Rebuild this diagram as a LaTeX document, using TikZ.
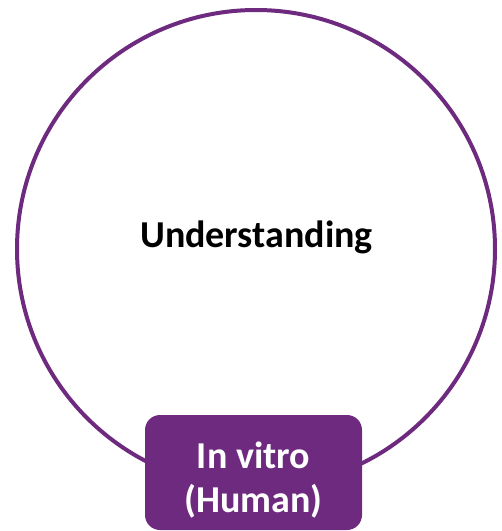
\documentclass[tikz,border=0pt]{standalone}
\usepackage{fontspec}
\setmainfont{Carlito}
\definecolor{plum}{RGB}{110,42,126}
\tikzset{
  ring/.style={draw=plum, line width=4pt, fill=white},
  bigtext/.style={font=\bfseries\fontsize{38}{44}\selectfont, inner sep=0pt, anchor=base},
  tag/.style={fill=plum, rounded corners=15pt, minimum width=217pt, minimum height=115pt,
    inner sep=0pt}
}
\begin{document}
\begin{tikzpicture}[x=1pt,y=-1pt]
  \useasboundingbox (0,0) rectangle (502,531);
  % main circle
  \node[ring, circle, minimum size=478pt, inner sep=0pt] (outer) at (256,249) {};
  \node[bigtext, text=black] (title) at (256.5,247) {Understanding};
  % label box on the lower rim
  \node[tag] (vitro) at (253.5,472.5) {};
  \node[bigtext, text=white] (vitroA) at (253.5,468) {In vitro};
  \node[bigtext, text=white] (vitroB) at (253.5,512) {(Human)};
\end{tikzpicture}
\end{document}
